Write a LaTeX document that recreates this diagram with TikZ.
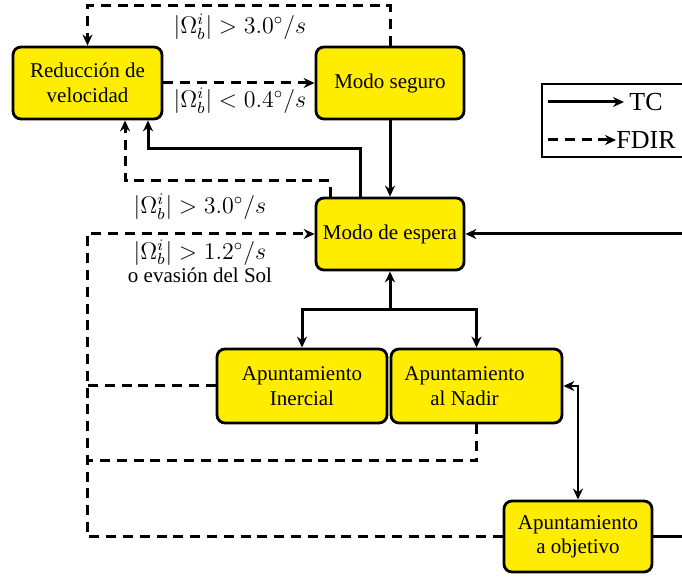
\documentclass[tikz,border=0pt]{standalone}
\usepackage[no-math]{fontspec}
\setmainfont{Liberation Serif}
\usetikzlibrary{arrows.meta}
\definecolor{boxyellow}{RGB}{255,237,0}
\begin{document}
\begin{tikzpicture}[x=0.5pt,y=-0.5pt,
  stbox/.style={draw, line width=1.4pt, rounded corners=4pt, fill=boxyellow, align=center,
    font=\fontsize{10.5}{12.2}\selectfont, inner sep=0pt},
  tip/.style={-{Stealth[length=5.5pt,width=5pt,inset=1.8pt]}},
  tc/.style={line width=1.5pt, tip},
  fdir/.style={line width=1.5pt, dash pattern=on 5pt off 3.4pt, tip},
  fdirline/.style={line width=1.5pt, dash pattern=on 5pt off 3.4pt},
  lab/.style={font=\fontsize{11.5}{12.5}\selectfont, inner sep=0pt, align=center},
  legtext/.style={font=\fontsize{13}{14}\selectfont, inner sep=0pt, anchor=west}
]
\useasboundingbox (0,0) rectangle (682,577);
\clip (0,0) rectangle (682,577);

% nodes
\node[stbox, minimum width=74.5pt, minimum height=36pt] (red) at (87.5,83) {Reducción de\\velocidad};
\node[stbox, minimum width=74pt, minimum height=36pt] (seg) at (390,83) {Modo seguro};
\node[stbox, minimum width=74pt, minimum height=36pt] (esp) at (390,234) {Modo de espera};
\node[stbox, minimum width=85pt, minimum height=37pt] (iner) at (302,386) {Apuntamiento\\Inercial};
\node[stbox, minimum width=85.5pt, minimum height=37pt] (nad) at (476.5,386) {Apuntamiento\hspace*{12pt}\\al Nadir\hspace*{12pt}};
\node[stbox, minimum width=74pt, minimum height=35.5pt] (obj) at (578,536.5) {Apuntamiento\\a objetivo};

% top loop: Modo seguro -> Reduccion
\draw[fdir] (seg.north) -- ++(0,-40) -| (red.north);
\node[lab] (l1) at (240,27) {$|\Omega_b^i| > 3.0^\circ/s$};

% Reduccion -> Modo seguro
\draw[fdir] (red.east) -- (seg.west);
\node[lab] (l2) at (240,101) {$|\Omega_b^i| < 0.4^\circ/s$};

% Modo seguro -> Modo de espera
\draw[tc] (seg.south) -- (esp.north);

% Modo de espera -> Reduccion (TC)
\draw[tc] ([xshift=-15pt]esp.north) -- ++(0,-48) -| ([xshift=30.25pt]red.south);
% Modo de espera -> Reduccion (FDIR)
\draw[fdir] ([xshift=-30pt]esp.north) -- ++(0,-16) -| ([xshift=18.75pt]red.south);
\node[lab] (l3) at (200,207) {$|\Omega_b^i| > 3.0^\circ/s$};

% FDIR return loop to Modo de espera
\coordinate (L) at (87,234);
\coordinate (L1) at (87,461);
\draw[fdir] (obj.west) -| (L) -- (esp.west);
\draw[fdirline] (iner.west) -- (iner.west -| L);
\draw[fdirline] (nad.south) |- (L1);
\node[lab] (l4) at (200,261) {$|\Omega_b^i| > 1.2^\circ/s$\\[-1pt]{\fontsize{10.5}{12}\selectfont o evasión del Sol}};

% TC from objetivo back to Modo de espera
\draw[tc] (obj.east) -- ++(60,0) |- (esp.east);

% Modo de espera <-> pointing modes
\coordinate (B) at (390,310);
\draw[tc] (B) -- (esp.south);
\draw[tc] (B) -| (iner.north);
\draw[tc] (B) -| (nad.north);

% Nadir <-> objetivo
\draw[line width=1.1pt, {Stealth[length=5.5pt,width=5pt,inset=1.8pt]}-{Stealth[length=5.5pt,width=5pt,inset=1.8pt]}] (nad.east) -| (obj.north);

% legend
\draw[line width=1.4pt] (542,84) rectangle (700,157);
\coordinate (ta) at (548,102);
\coordinate (tb) at (624,102);
\draw[tc] (ta) -- (tb);
\node[legtext] (tct) at (629,102) {TC};
\coordinate (fa) at (548,140);
\coordinate (fb) at (616,140);
\draw[fdir] (fa) -- (fb);
\node[legtext] (fdt) at (616,140) {FDIR};
\end{tikzpicture}
\end{document}
